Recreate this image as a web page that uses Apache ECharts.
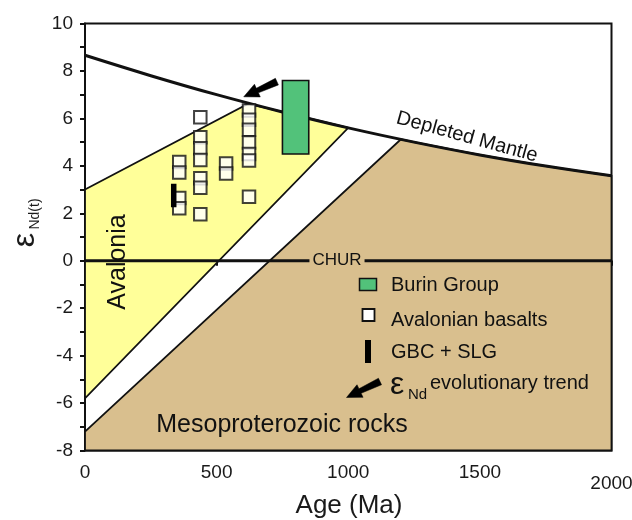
<!DOCTYPE html>
<html>
<head>
<meta charset="utf-8">
<script src="https://cdn.jsdelivr.net/npm/echarts@6/dist/echarts.min.js"></script>
<style>
  html, body { margin: 0; padding: 0; background: #fff; }
  #chart { width: 632px; height: 520px; }
</style>
</head>
<body>
<div id="chart"></div>
<script>
// Axis ranges (age in Ma, epsilon Nd)
const ageRange = [0, 2000];
const epsRange = [-8, 10];

// Depleted mantle evolution curve [age, εNd]
const depletedMantle = [[0, 8.66], [250, 7.8], [500, 7.0], [750, 6.27], [1000, 5.6],
  [1250, 5.0], [1500, 4.46], [1750, 3.99], [2000, 3.58]];

// Avalonia field outline [age, εNd]
const avaloniaField = [[0, 3.0], [620, 6.62], [750, 6.27], [1000, 5.6], [0, -5.8]];

// Mesoproterozoic rocks field outline [age, εNd]
const mesoField = [[0, -8], [0, -7.2], [1200, 5.12], [1250, 5.0], [1500, 4.46],
  [1750, 3.99], [2000, 3.58], [2000, -8]];

// Chondritic uniform reservoir
const chur = [[0, 0], [2000, 0]];

// Avalonian basalts [age, εNd]
const basalts = [
  [358, 4.16], [358, 3.72], [358, 2.64], [358, 2.21],
  [438, 6.05], [438, 5.2], [438, 4.74], [438, 4.25], [438, 3.48], [438, 3.08], [438, 1.96],
  [536, 4.1], [536, 3.68],
  [623, 6.33], [623, 5.94], [623, 5.52], [623, 4.98], [623, 4.5], [623, 4.22], [623, 2.7]
];

// GBC + SLG range [age, εNd]
const gbcSlg = [[337, 2.25], [337, 3.25]];

// Burin Group box [ageMin, ageMax, εMin, εMax]
const burin = [[750, 850, 4.5, 7.6]];

// εNd evolutionary trend arrow [tailAge, tailε, tipAge, tipε]
const trendArrow = [[729, 7.55, 603, 6.91]];

const COL_YELLOW = '#FFFF99';
const COL_TAN = '#D9BF8E';
const COL_GREEN = '#52C27A';
const INK = '#111';
const FONT = 'Liberation Sans, Arial, sans-serif';

// Arrow outline in pixel space from tail to tip
function arrowPoints(tail, tip) {
  const dx = tip[0] - tail[0], dy = tip[1] - tail[1];
  const len = Math.hypot(dx, dy);
  const ux = dx / len, uy = dy / len;
  const nx = -uy, ny = ux;
  const shaft = 3.6, head = 15, half = 7;
  const neck = [tip[0] - ux * head, tip[1] - uy * head];
  return [
    [tail[0] + nx * shaft, tail[1] + ny * shaft],
    [neck[0] + nx * (shaft * 0.7), neck[1] + ny * (shaft * 0.7)],
    [neck[0] + nx * half, neck[1] + ny * half],
    tip,
    [neck[0] - nx * half, neck[1] - ny * half],
    [neck[0] - nx * (shaft * 0.7), neck[1] - ny * (shaft * 0.7)],
    [tail[0] - nx * shaft, tail[1] - ny * shaft]
  ];
}

function fieldSeries(outline, fill, z) {
  return {
    type: 'custom',
    data: [[0, 0]],
    z: z,
    silent: true,
    renderItem: function (params, api) {
      return {
        type: 'polygon',
        shape: { points: outline.map(p => api.coord(p)) },
        style: { fill: fill, stroke: INK, lineWidth: 1.8 }
      };
    }
  };
}

const chart = echarts.init(document.getElementById('chart'));

chart.setOption({
  animation: false,
  backgroundColor: '#fff',
  grid: {
    left: 85, right: 20.5, top: 23.5, bottom: 69.5,
    containLabel: false, outerBoundsMode: 'none',
    show: true, borderColor: INK, borderWidth: 2, backgroundColor: 'transparent'
  },
  xAxis: {
    type: 'value', min: ageRange[0], max: ageRange[1], interval: 500,
    axisLine: { lineStyle: { color: INK, width: 2 } },
    axisTick: { length: 5, lineStyle: { color: INK, width: 2 } },
    splitLine: { show: false },
    axisLabel: {
      margin: 13, color: '#1a1a1a', fontSize: 19, fontFamily: FONT,
      formatter: v => v === 2000 ? '{low|2000}' : String(v),
      rich: { low: { padding: [11, 0, 0, 0], fontSize: 19, color: '#1a1a1a', fontFamily: FONT } }
    }
  },
  yAxis: {
    type: 'value', min: epsRange[0], max: epsRange[1], interval: 2,
    axisLine: { lineStyle: { color: INK, width: 2 } },
    axisTick: { length: 5, lineStyle: { color: INK, width: 2 } },
    minorTick: { show: true, splitNumber: 2, length: 5, lineStyle: { color: INK, width: 2 } },
    splitLine: { show: false },
    axisLabel: { margin: 12, color: '#1a1a1a', fontSize: 19, fontFamily: FONT }
  },
  series: [
    fieldSeries(mesoField, COL_TAN, 1),
    fieldSeries(avaloniaField, COL_YELLOW, 2),
    {
      type: 'line', data: depletedMantle, smooth: 0.4, showSymbol: false, z: 4, silent: true,
      lineStyle: { color: INK, width: 3 }
    },
    {
      type: 'line', data: chur, showSymbol: false, z: 4, silent: true,
      lineStyle: { color: INK, width: 3 }
    },
    {
      type: 'custom', data: burin, z: 5, silent: true,
      encode: { x: [0, 1], y: [2, 3] },
      renderItem: function (params, api) {
        const p0 = api.coord([api.value(0), api.value(3)]);
        const p1 = api.coord([api.value(1), api.value(2)]);
        return {
          type: 'rect',
          shape: { x: p0[0], y: p0[1], width: p1[0] - p0[0], height: p1[1] - p0[1] },
          style: { fill: COL_GREEN, stroke: INK, lineWidth: 1.6 }
        };
      }
    },
    {
      type: 'scatter', data: basalts, symbol: 'rect', symbolSize: 12.5, z: 6, silent: true,
      itemStyle: { color: '#fff', borderColor: INK, borderWidth: 2 }
    },
    {
      type: 'line', data: gbcSlg, showSymbol: false, z: 7, silent: true,
      lineStyle: { color: '#000', width: 5.5, cap: 'butt' }
    },
    {
      type: 'custom', data: trendArrow, z: 7, silent: true,
      encode: { x: [0, 2], y: [1, 3] },
      renderItem: function (params, api) {
        const tail = api.coord([api.value(0), api.value(1)]);
        const tip = api.coord([api.value(2), api.value(3)]);
        return {
          type: 'polygon',
          shape: { points: arrowPoints(tail, tip) },
          style: { fill: '#000', stroke: '#000', lineWidth: 0.5 }
        };
      }
    }
  ],
  graphic: [
    // axis titles
    { type: 'text', x: 349, y: 506, z: 10,
      style: { text: 'Age (Ma)', fontSize: 26, fontFamily: FONT, fill: '#1a1a1a', align: 'center', verticalAlign: 'middle' } },
    { type: 'text', x: 25, y: 240, rotation: Math.PI / 2, z: 10,
      style: { text: 'ε', fontSize: 32, fontFamily: FONT, fill: '#1a1a1a', align: 'center', verticalAlign: 'middle' } },
    { type: 'text', x: 35, y: 214, rotation: Math.PI / 2, z: 10,
      style: { text: 'Nd(t)', fontSize: 14, fontFamily: FONT, fill: '#1a1a1a', align: 'center', verticalAlign: 'middle' } },
    // field labels
    { type: 'text', x: 118, y: 262, rotation: Math.PI / 2, z: 10,
      style: { text: 'Avalonia', fontSize: 25, fontFamily: FONT, fill: INK, align: 'center', verticalAlign: 'middle' } },
    { type: 'text', x: 282, y: 425, z: 10,
      style: { text: 'Mesoproterozoic rocks', fontSize: 25, fontFamily: FONT, fill: INK, align: 'center', verticalAlign: 'middle' } },
    { type: 'text', x: 467, y: 137, rotation: -0.27, z: 10,
      style: { text: 'Depleted Mantle', fontSize: 20, fontFamily: FONT, fill: INK, align: 'center', verticalAlign: 'middle' } },
    { type: 'text', x: 337, y: 260, z: 10,
      style: { text: 'CHUR', fontSize: 17, fontFamily: FONT, fill: INK, align: 'center', verticalAlign: 'middle',
        backgroundColor: COL_TAN, padding: [1, 3, 1, 3] } },
    // key
    { type: 'rect', z: 10, shape: { x: 359.5, y: 278.5, width: 17, height: 12 },
      style: { fill: COL_GREEN, stroke: INK, lineWidth: 1.5 } },
    { type: 'text', x: 391, y: 285, z: 10,
      style: { text: 'Burin Group', fontSize: 20, fontFamily: FONT, fill: INK, verticalAlign: 'middle' } },
    { type: 'rect', z: 10, shape: { x: 362.5, y: 309, width: 12, height: 12 },
      style: { fill: '#fff', stroke: INK, lineWidth: 1.8 } },
    { type: 'text', x: 391, y: 320, z: 10,
      style: { text: 'Avalonian basalts', fontSize: 20, fontFamily: FONT, fill: INK, verticalAlign: 'middle' } },
    { type: 'rect', z: 10, shape: { x: 365, y: 340, width: 6, height: 23 },
      style: { fill: '#000' } },
    { type: 'text', x: 391, y: 352, z: 10,
      style: { text: 'GBC + SLG', fontSize: 20, fontFamily: FONT, fill: INK, verticalAlign: 'middle' } },
    { type: 'polygon', z: 10, shape: { points: arrowPoints([380, 381.5], [346.5, 397.5]) },
      style: { fill: '#000', stroke: '#000', lineWidth: 0.5 } },
    { type: 'text', x: 390, y: 385, z: 10,
      style: { text: 'ε', fontSize: 32, fontFamily: FONT, fill: INK, verticalAlign: 'middle' } },
    { type: 'text', x: 408, y: 395, z: 10,
      style: { text: 'Nd', fontSize: 15, fontFamily: FONT, fill: INK, verticalAlign: 'middle' } },
    { type: 'text', x: 430, y: 383, z: 10,
      style: { text: 'evolutionary trend', fontSize: 20, fontFamily: FONT, fill: INK, verticalAlign: 'middle' } }
  ]
});
</script>
</body>
</html>
